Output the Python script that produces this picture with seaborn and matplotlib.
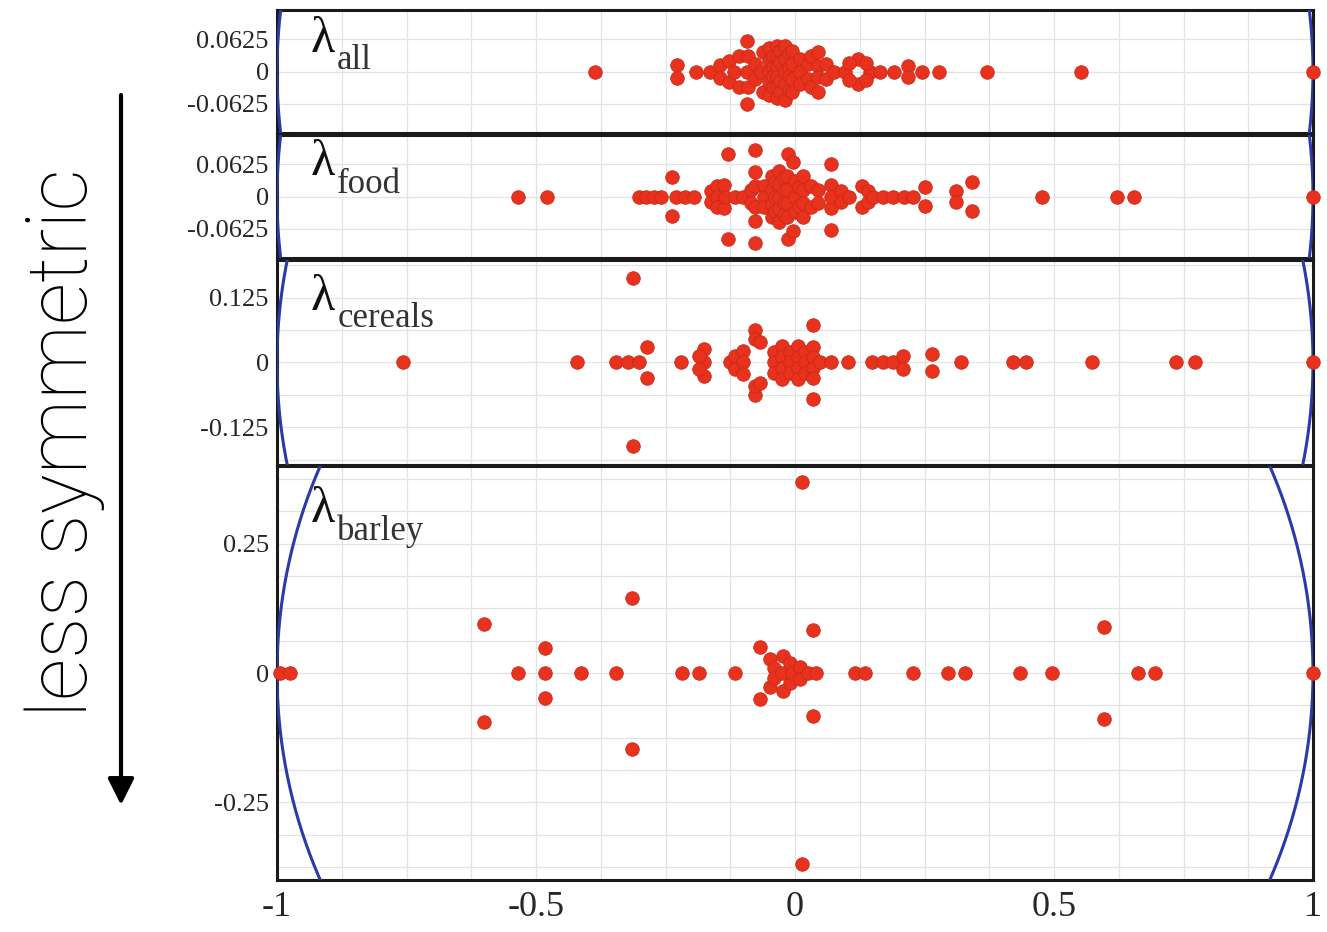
import numpy as np
import pandas as pd
import matplotlib
matplotlib.use("Agg")
import matplotlib.pyplot as plt
from matplotlib.patches import FancyArrowPatch
from matplotlib.ticker import MultipleLocator, FixedLocator
from matplotlib.transforms import offset_copy
import seaborn as sns

# ------------------------------------------------------------------------
# Eigenvalues read off the picture (real part, imaginary part)
# ------------------------------------------------------------------------
all_pts = [
    (-0.387, 0), (0.371, 0), (0.552, 0), (1.0, 0),
    (-0.228, 0.012), (-0.228, -0.012), (-0.191, 0), (-0.165, 0),
    (-0.145, 0.012), (-0.145, -0.012), (-0.128, 0.02), (-0.128, -0.02),
    (-0.118, 0), (-0.108, 0.03), (-0.108, -0.03),
    (-0.093, 0.059), (-0.093, -0.062), (-0.09, 0.03), (-0.09, -0.03), (-0.092, 0),
    (-0.078, 0.015), (-0.078, -0.015), (-0.062, 0.037), (-0.062, -0.04), (-0.065, 0),
    (-0.05, 0.045), (-0.05, 0.02), (-0.05, 0), (-0.05, -0.02), (-0.05, -0.045),
    (-0.042, 0.03), (-0.042, -0.03), (-0.042, 0.008), (-0.042, -0.008),
    (-0.035, 0.05), (-0.035, 0.03), (-0.035, 0.01), (-0.035, -0.01),
    (-0.035, -0.03), (-0.035, -0.052),
    (-0.028, 0.04), (-0.028, 0.018), (-0.028, -0.018), (-0.028, -0.04),
    (-0.02, 0.05), (-0.02, 0.025), (-0.02, 0), (-0.02, -0.025), (-0.02, -0.055),
    (-0.012, 0.035), (-0.012, 0.008), (-0.012, -0.008), (-0.012, -0.035),
    (-0.005, 0.04), (-0.005, 0.015), (-0.005, -0.015), (-0.005, -0.04),
    (0.01, 0.025), (0.01, 0), (0.01, -0.025),
    (0.025, 0.015), (0.025, -0.015), (0.03, 0.03), (0.03, -0.03),
    (0.045, 0.037), (0.045, 0.01), (0.045, -0.01), (0.045, -0.04),
    (0.06, 0.015), (0.06, -0.015), (0.075, 0),
    (0.097, 0), (0.145, 0), (0.121, 0.024), (0.121, -0.024),
    (0.104, 0.017), (0.138, 0.017), (0.104, -0.017), (0.138, -0.017),
    (0.165, 0), (0.192, 0), (0.218, 0.01), (0.218, -0.01), (0.245, 0), (0.278, 0),
]

food_pts = [
    (-0.534, 0), (-0.479, 0),
    (-0.302, 0), (-0.288, 0), (-0.273, 0), (-0.258, 0),
    (-0.23, 0), (-0.212, 0), (-0.195, 0),
    (-0.237, 0.037), (-0.237, -0.038),
    (-0.163, 0.01), (-0.163, -0.01), (-0.15, 0.02), (-0.15, 0), (-0.15, -0.02),
    (-0.137, 0.022), (-0.137, -0.022), (-0.135, 0),
    (-0.129, 0.083), (-0.129, -0.083),
    (-0.115, 0), (-0.1, 0), (-0.085, 0.012), (-0.085, -0.012),
    (-0.077, 0.09), (-0.077, -0.09), (-0.077, 0.048), (-0.077, -0.048),
    (-0.077, 0.02), (-0.077, -0.02),
    (-0.06, 0.02), (-0.06, 0), (-0.06, -0.02),
    (-0.045, 0.04), (-0.045, 0.015), (-0.045, -0.015), (-0.045, -0.04),
    (-0.038, 0.028), (-0.038, 0), (-0.038, -0.028),
    (-0.03, 0.05), (-0.03, 0.025), (-0.03, 0), (-0.03, -0.025), (-0.03, -0.05),
    (-0.022, 0.035), (-0.022, 0.012), (-0.022, -0.012), (-0.022, -0.035),
    (-0.015, 0.04), (-0.015, 0.012), (-0.015, -0.012), (-0.015, -0.04),
    (0.0, 0.03), (0.0, 0.0), (0.0, -0.03),
    (0.008, 0.018), (0.008, -0.018),
    (0.015, 0.04), (0.015, 0.012), (0.015, -0.012), (0.015, -0.04),
    (0.03, 0.02), (0.03, -0.02), (0.045, 0.012), (0.045, -0.012),
    (-0.013, 0.083), (-0.003, 0.066), (-0.013, -0.083), (-0.003, -0.066),
    (0.07, 0.062), (0.07, -0.065), (0.07, 0.023), (0.07, -0.023), (0.07, 0),
    (0.089, 0.01), (0.089, -0.01), (0.105, 0),
    (0.13, 0.02), (0.13, -0.02), (0.14, 0.01), (0.14, -0.01), (0.15, 0),
    (0.17, 0), (0.19, 0), (0.21, 0), (0.228, 0),
    (0.251, 0.018), (0.251, -0.018), (0.311, 0.01), (0.311, -0.01),
    (0.341, 0.028), (0.341, -0.028),
    (0.476, 0), (0.622, 0), (0.655, 0), (1.0, 0),
]

cereals_pts = [
    (-0.756, 0), (-0.42, 0), (-0.345, 0), (-0.322, 0), (-0.302, 0),
    (-0.286, 0.03), (-0.286, -0.03), (-0.313, 0.163), (-0.313, -0.162),
    (-0.22, 0), (-0.175, 0.026), (-0.175, 0), (-0.175, -0.026),
    (-0.185, 0.013), (-0.185, -0.013),
    (-0.125, 0), (-0.115, 0.013), (-0.115, -0.013),
    (-0.1, 0.022), (-0.1, 0), (-0.1, -0.022),
    (-0.077, 0.062), (-0.077, 0.046), (-0.068, 0.04),
    (-0.077, -0.062), (-0.077, -0.046), (-0.068, -0.04),
    (-0.04, 0.02), (-0.04, 0), (-0.04, -0.02),
    (-0.025, 0.032), (-0.025, 0.01), (-0.025, -0.01), (-0.025, -0.032),
    (-0.01, 0.02), (-0.01, 0), (-0.01, -0.02),
    (0.005, 0.032), (0.005, 0.01), (0.005, -0.01), (0.005, -0.032),
    (0.02, 0.02), (0.02, 0), (0.02, -0.02),
    (0.035, 0.03), (0.035, 0.01), (0.035, -0.01), (0.035, -0.03), (0.048, 0),
    (0.035, 0.072), (0.035, -0.071),
    (0.07, 0), (0.102, 0), (0.149, 0), (0.169, 0), (0.189, 0),
    (0.208, 0.012), (0.208, -0.012), (0.264, 0.017), (0.264, -0.017),
    (0.32, 0), (0.42, 0), (0.446, 0), (0.573, 0), (0.735, 0), (0.773, 0), (1.0, 0),
]

barley_pts = [
    (-0.994, 0), (-0.975, 0), (-0.6, 0.095), (-0.6, -0.095), (-0.535, 0),
    (-0.483, 0.048), (-0.483, 0), (-0.483, -0.048), (-0.413, 0), (-0.345, 0),
    (-0.315, 0.145), (-0.315, -0.147), (-0.219, 0), (-0.185, 0), (-0.116, 0),
    (-0.068, 0.05), (-0.068, -0.05), (-0.048, 0.027), (-0.048, -0.028),
    (-0.023, 0.033), (-0.023, -0.035),
    (-0.04, 0.01), (-0.04, -0.01), (-0.025, 0), (-0.01, 0.02), (-0.01, -0.02),
    (-0.005, 0), (0.01, 0.012), (0.01, -0.012), (0.025, 0), (0.04, 0),
    (0.035, 0.083), (0.035, -0.083),
    (0.116, 0), (0.135, 0), (0.228, 0), (0.295, 0), (0.328, 0),
    (0.434, 0), (0.496, 0), (0.596, 0.088), (0.596, -0.088),
    (0.662, 0), (0.695, 0), (1.0, 0), (0.013, 0.369), (0.013, -0.369),
]

panel_names = ["all", "food", "cereals", "barley"]
panel_ylims = [0.119, 0.119, 0.198, 0.4]
panel_yticks = [[-0.0625, 0, 0.0625], [-0.0625, 0, 0.0625],
                [-0.125, 0, 0.125], [-0.25, 0, 0.25]]
panel_yticklabels = [["-0.0625", "0", "0.0625"], ["-0.0625", "0", "0.0625"],
                     ["-0.125", "0", "0.125"], ["-0.25", "0", "0.25"]]
xticks = [-1, -0.5, 0, 0.5, 1]
xticklabels = ["-1", "-0.5", "0", "0.5", "1"]

# ------------------------------------------------------------------------
# Style
# ------------------------------------------------------------------------
sns.set_style("white")
plt.rcParams["font.family"] = ["Liberation Serif", "DejaVu Serif"]
plt.rcParams["axes.unicode_minus"] = False

RED = "#e8321e"
BLUE = "#2a3aa8"

W, H = 1327, 932
fig = plt.figure(figsize=(W / 100, H / 100), dpi=100)

# panel extents in pixels (top, bottom)
panel_px = [(10, 133), (135, 258), (260, 465), (466, 880)]
left_px, right_px = 277, 1313

circle_t = np.linspace(0, 2 * np.pi, 2000)

for i, (name, pts) in enumerate(zip(panel_names,
                                    [all_pts, food_pts, cereals_pts, barley_pts])):
    top, bot = panel_px[i]
    ax = fig.add_axes([left_px / W, 1 - bot / H,
                       (right_px - left_px) / W, (bot - top) / H])
    df = pd.DataFrame(pts, columns=["re", "im"])

    ax.plot(np.cos(circle_t), np.sin(circle_t), color=BLUE, lw=2.2, zorder=3)
    sns.scatterplot(data=df, x="re", y="im", ax=ax, color=RED, s=95,
                    edgecolor="#c92a18", linewidth=0.6, zorder=4, clip_on=False)

    lim = panel_ylims[i]
    ax.set_xlim(-1, 1)
    ax.set_ylim(-lim, lim)
    ax.set_xlabel("")
    ax.set_ylabel("")

    ax.xaxis.set_major_locator(FixedLocator(xticks))
    ax.xaxis.set_minor_locator(MultipleLocator(0.125))
    ax.yaxis.set_major_locator(FixedLocator(panel_yticks[i]))
    ax.yaxis.set_minor_locator(MultipleLocator(0.0625))
    ax.set_yticklabels(panel_yticklabels[i], fontsize=19)
    if i == 3:
        ax.set_xticklabels(xticklabels, fontsize=26)
    else:
        ax.set_xticklabels([])
    ax.tick_params(which="both", length=0, pad=6)
    ax.tick_params(axis="x", pad=8)
    ax.grid(which="both", color="#e3e3e3", lw=0.9)
    ax.set_axisbelow(True)
    for sp in ax.spines.values():
        sp.set_color("#1a1a1a")
        sp.set_linewidth(2.2)
        sp.set_zorder(2.5)

    # lambda label with a low-hanging subscript
    label_y = [0.95, 0.96, 0.93, 0.95][i]
    ax.text(0.032, label_y, "λ", transform=ax.transAxes, fontsize=36,
            color="#111111", ha="left", va="top", zorder=5)
    sub_tr = offset_copy(ax.transAxes, fig=fig, x=27, y=-28, units="dots")
    ax.text(0.032, label_y, name, transform=sub_tr, fontsize=25,
            color="#333333", ha="left", va="top", zorder=5)

# left annotation
fig.text(65 / W, 1 - 443 / H, "less symmetric", rotation=90,
         ha="center", va="center", fontsize=60, fontweight="light",
         family=["Roboto", "DejaVu Sans"], color="black")
fig.patches.append(FancyArrowPatch(
    (121 / W, 1 - 95 / H), (121 / W, 1 - 805 / H),
    transform=fig.transFigure, arrowstyle="-|>", mutation_scale=40,
    lw=3, color="black", shrinkA=0, shrinkB=0))

fig.savefig("out.png", dpi=100)
plt.close(fig)
